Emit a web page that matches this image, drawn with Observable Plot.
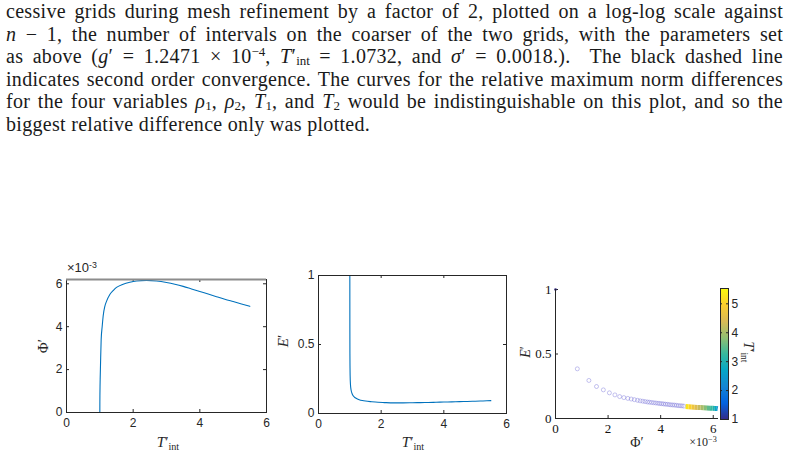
<!DOCTYPE html>
<html><head><meta charset="utf-8">
<script src="https://cdn.jsdelivr.net/npm/d3@7"></script>
<script src="https://cdn.jsdelivr.net/npm/@observablehq/plot@0.6"></script>
<style>
html,body{margin:0;padding:0;background:#fff;}
#page{position:relative;width:788px;height:456px;overflow:hidden;background:#fff;}
.ln{position:absolute;left:6px;height:22.5px;line-height:22.5px;font-family:"Liberation Serif","Times New Roman",serif;font-size:20px;letter-spacing:0.3px;color:#1a1a1a;white-space:nowrap;}
.ln sub{font-size:65%;vertical-align:-0.18em;line-height:0;letter-spacing:0;}
.ln sup{font-size:65%;vertical-align:0.55em;line-height:0;letter-spacing:0;}
.plot{position:absolute;}
.lab{position:absolute;font-family:"Liberation Serif","DejaVu Serif",serif;color:#262626;white-space:nowrap;line-height:1;}
.lab sub{font-size:68%;vertical-align:-0.3em;line-height:0;}
.lab sup{font-size:68%;vertical-align:0.5em;line-height:0;}
</style>
</head><body>
<div id="page"></div>
<script>
// ---------------- data ----------------
const textLines = [
  "cessive grids during mesh refinement by a factor of 2, plotted on a log-log scale against",
  "<i>n</i> − 1, the number of intervals on the coarser of the two grids, with the parameters set",
  "as above (<i>g</i>′ = 1.2471 × 10<sup>−4</sup>, <i>T</i>′<sub>int</sub> = 1.0732, and <i>σ</i>′ = 0.0018.). &nbsp;The black dashed line",
  "indicates second order convergence. The curves for the relative maximum norm differences",
  "for the four variables <i>ρ</i><sub>1</sub>, <i>ρ</i><sub>2</sub>, <i>T</i><sub>1</sub>, and <i>T</i><sub>2</sub> would be indistinguishable on this plot, and so the",
  "biggest relative difference only was plotted."
];

// shared T'_int samples with Phi' (x1e-3) and E'
const tInt = [1.0, 1.001, 1.003, 1.006, 1.01, 1.02, 1.04, 1.07, 1.1, 1.15, 1.2, 1.3, 1.4, 1.5, 1.7, 1.9, 2.1, 2.4, 2.7, 3.0, 3.25, 3.5, 3.75, 4.0, 4.25, 4.5, 4.75, 5.0, 5.25, 5.5];
const phiVals = [0, 0.5, 0.85, 1.2, 1.55, 2.2, 3.4, 4.0, 4.5, 4.95, 5.18, 5.5, 5.68, 5.83, 5.98, 6.07, 6.13, 6.16, 6.13, 6.06, 5.98, 5.88, 5.76, 5.64, 5.52, 5.4, 5.28, 5.17, 5.06, 4.95];
const eVals = [1.0, 0.62, 0.42, 0.33, 0.27, 0.21, 0.17, 0.145, 0.13, 0.118, 0.11, 0.1, 0.094, 0.09, 0.085, 0.081, 0.079, 0.077, 0.077, 0.078, 0.079, 0.080, 0.0815, 0.083, 0.0845, 0.086, 0.0875, 0.089, 0.091, 0.093];

// scatter markers of panel 3 (T'_int close to 1)
const scatPhi = [0.83, 1.27, 1.56, 1.82, 2.05, 2.26, 2.44, 2.6, 2.75, 2.88, 3.0, 3.12, 3.22, 3.32, 3.41, 3.5, 3.58, 3.66, 3.74, 3.82, 3.9, 3.97, 4.04, 4.11, 4.18, 4.25, 4.32, 4.39, 4.46, 4.53, 4.6, 4.67, 4.74, 4.81, 4.88];
const scatE = [0.385, 0.295, 0.248, 0.222, 0.199, 0.183, 0.170, 0.162, 0.156, 0.151, 0.146, 0.141, 0.137, 0.134, 0.131, 0.128, 0.126, 0.124, 0.122, 0.120, 0.118, 0.116, 0.115, 0.113, 0.111, 0.110, 0.108, 0.106, 0.105, 0.104, 0.102, 0.100, 0.099, 0.098, 0.096];
const startPoint = [{phi: 0, e: 1}];

const tTicks = [0, 2, 4, 6];
const phiTicks = [0, 2, 4, 6];
const eTicks = [0, 0.5, 1];
const cbTicks = [1, 2, 3, 4, 5];
const parula = ["#352a87", "#0363e1", "#1485d4", "#06a7c6", "#38b99e", "#92bf73", "#d9ba56", "#fcce2e", "#f9fb0e"];

// ---------------- layout ----------------
const page = document.getElementById("page");
const LINE_W = 777;
textLines.forEach((h, i) => {
  const d = document.createElement("div");
  d.className = "ln";
  d.style.top = (i * 22.5) + "px";
  d.innerHTML = h;
  page.appendChild(d);
  if (i < textLines.length - 1) {
    const w = d.getBoundingClientRect().width;
    const spaces = (d.textContent.match(/[ \u00a0]/g) || []).length;
    d.style.wordSpacing = ((LINE_W - w) / spaces) + "px";
  }
});

function put(node, left, top) {
  node.classList.add("plot");
  node.style.left = left + "px";
  node.style.top = top + "px";
  page.appendChild(node);
}
function lab(html, cx, cy, size, rot) {
  const d = document.createElement("div");
  d.className = "lab";
  d.innerHTML = html;
  d.style.fontSize = size + "px";
  d.style.left = cx + "px";
  d.style.top = cy + "px";
  d.style.transform = "translate(-50%,-50%)" + (rot ? " rotate(" + rot + "deg)" : "");
  page.appendChild(d);
  return d;
}

const ink = "#262626";
const blue = "#0072bd";
const idx = d3.range(tInt.length);
const sIdx = d3.range(scatPhi.length);
const sansStyle = {fontFamily: "'Liberation Sans', Arial, sans-serif", fontSize: "12px", color: ink, background: "transparent", overflow: "visible"};
const serifStyle = {fontFamily: "'Liberation Serif', 'DejaVu Serif', serif", fontSize: "13px", color: "#111", background: "transparent", overflow: "visible"};
const fmt = d => String(d);

// ---- panel 1 : Phi' vs T'_int ----
const p1 = Plot.plot({
  width: 280, height: 190,
  marginLeft: 66, marginRight: 14, marginTop: 24, marginBottom: 33,
  x: {domain: [0, 6], ticks: tTicks, tickSize: 0, tickPadding: 6, tickFormat: fmt, label: null},
  y: {domain: [0, 6.2], ticks: phiTicks, tickSize: 0, tickPadding: 4, tickFormat: fmt, label: null},
  style: sansStyle,
  marks: [
    Plot.ruleX([2, 4], {insetTop: 130, stroke: ink}),
    Plot.ruleX([2, 4], {insetBottom: 130, stroke: ink}),
    Plot.ruleY([2, 4, 6], {insetRight: 197, stroke: ink}),
    Plot.ruleY([2, 4, 6], {insetLeft: 197, stroke: ink}),
    Plot.line(idx, {x: i => tInt[i], y: i => phiVals[i], stroke: blue, strokeWidth: 1.1, curve: "monotone-x"}),
    Plot.frame({stroke: ink}),
    Plot.ruleY([6.2], {stroke: "#8c8c8c", strokeWidth: 2})
  ]
});
put(p1, 0, 255);

// ---- panel 2 : E' vs T'_int ----
const p2 = Plot.plot({
  width: 250, height: 190,
  marginLeft: 48, marginRight: 14, marginTop: 20, marginBottom: 32,
  x: {domain: [0, 6], ticks: tTicks, tickSize: 0, tickPadding: 6, tickFormat: fmt, label: null},
  y: {domain: [0, 1], ticks: eTicks, tickSize: 0, tickPadding: 4, tickFormat: fmt, label: null},
  style: sansStyle,
  marks: [
    Plot.ruleX([2, 4], {insetTop: 135, stroke: ink}),
    Plot.ruleX([2, 4], {insetBottom: 135, stroke: ink}),
    Plot.ruleY([0.5], {insetRight: 185, stroke: ink}),
    Plot.ruleY([0.5], {insetLeft: 185, stroke: ink}),
    Plot.line(idx, {x: i => tInt[i], y: i => eVals[i], stroke: blue, strokeWidth: 1.1, curve: "monotone-x"}),
    Plot.frame({stroke: ink})
  ]
});
put(p2, 270, 255);

// ---- panel 3 : E' vs Phi', coloured by T'_int ----
const colorOpts = {type: "linear", domain: [1, 5.53], clamp: true, interpolate: d3.piecewise(d3.interpolateRgb, parula)};
const p3 = Plot.plot({
  width: 268, height: 186,
  marginLeft: 35, marginRight: 70, marginTop: 19, marginBottom: 38,
  x: {domain: [0, 6.2], ticks: phiTicks, tickSize: 0, tickPadding: 5, tickFormat: fmt, label: null},
  y: {domain: [0, 1], ticks: eTicks, tickSize: 0, tickPadding: 4, tickFormat: fmt, label: null},
  color: colorOpts,
  style: serifStyle,
  marks: [
    Plot.ruleX([2, 4, 6], {insetTop: 126, stroke: ink}),
    Plot.ruleY([0.5, 1], {insetRight: 160, stroke: ink}),
    Plot.dot(sIdx, {x: i => scatPhi[i], y: i => scatE[i], r: 2, stroke: "#6d6ad6", strokeOpacity: 0.5, strokeWidth: 0.8, fill: "none"}),
    Plot.dot(startPoint, {x: "phi", y: "e", r: 1.3, fill: "#352a87"}),
    Plot.line(idx, {filter: i => tInt[i] >= 2.1, x: i => phiVals[i], y: i => eVals[i], z: null, stroke: i => tInt[i], strokeWidth: 5, strokeLinecap: "butt"}),
    Plot.ruleX([0], {stroke: ink}),
    Plot.ruleY([0], {stroke: ink})
  ]
});
put(p3, 520, 270);

// ---- colorbar ----
const cb = Plot.plot({
  width: 78, height: 186,
  marginLeft: 10, marginRight: 60, marginTop: 18, marginBottom: 37,
  x: {domain: [0, 1], axis: null},
  y: {domain: [1, 5.53], axis: "right", ticks: cbTicks, tickSize: 0, tickPadding: 3, tickFormat: fmt, label: null},
  color: colorOpts,
  style: sansStyle,
  marks: [
    Plot.raster({x1: 0, x2: 1, y1: 1, y2: 5.53, width: 1, height: 200, fill: (x, y) => y, imageRendering: "auto"}),
    Plot.ruleY([2, 3, 4, 5], {insetRight: 6, stroke: ink}),
    Plot.ruleY([2, 3, 4, 5], {insetLeft: 6, stroke: ink}),
    Plot.frame({stroke: ink})
  ]
});
put(cb, 710, 270);

// ---- axis labels ----
const tl = "<i>T</i>′<sub>int</sub>";
lab(tl, 168, 442, 15);
lab("Φ′", 43, 346, 15, -90);
lab(tl, 413, 442, 15);
lab("<i>E</i>′", 283, 341, 15, -90);
lab("Φ′", 637, 443, 14);
lab("×10<sup>−3</sup>", 703, 442, 12);
lab("<i>E</i>′", 526, 352, 14, -90);
lab(tl, 748, 352, 14, 90);
const sx = document.createElement("div");
sx.className = "lab";
sx.style.fontFamily = "'Liberation Sans', Arial, sans-serif";
sx.style.fontSize = "13px";
sx.style.left = "67px"; sx.style.top = "261px";
sx.innerHTML = "×10<sup>-3</sup>";
page.appendChild(sx);
</script>
</body></html>
